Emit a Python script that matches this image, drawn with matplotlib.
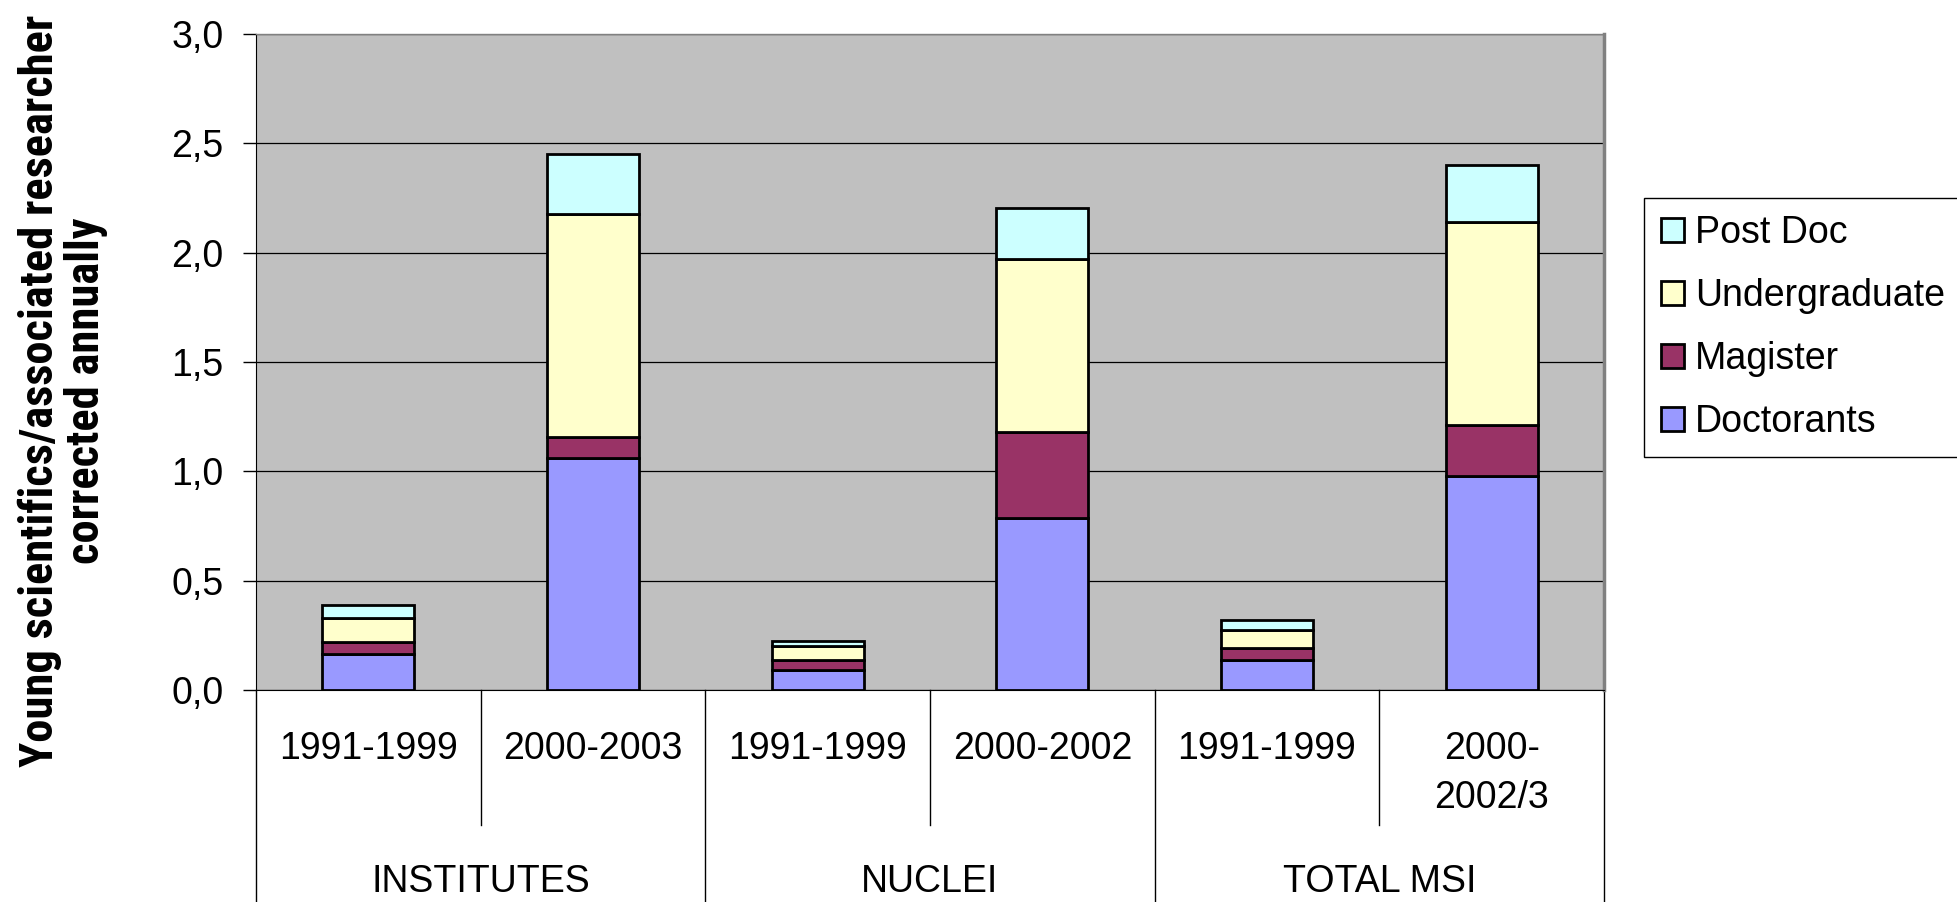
import matplotlib
matplotlib.use("Agg")
import matplotlib.pyplot as plt
import matplotlib.transforms as mtransforms
from matplotlib.patches import Patch
from matplotlib import font_manager

groups = ["INSTITUTES", "NUCLEI", "TOTAL MSI"]
periods = ["1991-1999", "2000-2003", "1991-1999", "2000-2002", "1991-1999", "2000-\n2002/3"]
doctorants = [0.165, 1.06, 0.093, 0.785, 0.135, 0.98]
magister = [0.055, 0.095, 0.044, 0.395, 0.057, 0.23]
undergraduate = [0.11, 1.02, 0.065, 0.79, 0.084, 0.93]
postdoc = [0.06, 0.275, 0.02, 0.235, 0.042, 0.26]
yticks = [0.0, 0.5, 1.0, 1.5, 2.0, 2.5, 3.0]
ytick_labels = ["0,0", "0,5", "1,0", "1,5", "2,0", "2,5", "3,0"]
ylabel = "Young scientifics/associated researcher\ncorrected annually"

series = [("Doctorants", doctorants, "#9999FF"),
          ("Magister", magister, "#993366"),
          ("Undergraduate", undergraduate, "#FFFFCC"),
          ("Post Doc", postdoc, "#CCFFFF")]

plt.rcParams['font.family'] = ['Liberation Sans', 'DejaVu Sans']

W, H = 1957, 902
fig = plt.figure(figsize=(W / 100, H / 100), dpi=100)
L, R, T, B = 256, 1604, 34, 690
ax = fig.add_axes([L / W, (H - B) / H, (R - L) / W, (B - T) / H])
ax.set_facecolor("#C0C0C0")

x = list(range(len(periods)))
bottom = [0.0] * len(periods)
for name, vals, col in series:
    ax.bar(x, vals, width=0.41, bottom=bottom, color=col, edgecolor="black",
           linewidth=2.0, zorder=3)
    bottom = [b + v for b, v in zip(bottom, vals)]

ax.set_xlim(-0.5, len(periods) - 0.5)
ax.set_ylim(0, 3.0)
ax.set_yticks(yticks)
ax.set_yticklabels(ytick_labels, fontsize=27)
ax.tick_params(axis='y', direction='out', length=9.5, width=1, pad=14, colors='black')
ax.set_xticks([])
ax.yaxis.grid(True, color="black", linewidth=0.9, zorder=1)
ax.set_axisbelow(True)
for s in ['top', 'right']:
    ax.spines[s].set_color('#808080')
ax.spines['right'].set_linewidth(2.5)
ax.spines['top'].set_linewidth(1.0)
ax.spines['left'].set_color('black')
ax.spines['bottom'].set_color('black')

# category axis (two-level)
tr = mtransforms.blended_transform_factory(ax.transData, fig.transFigure)
y_axis = (H - B) / H
for gx in [-0.5, 1.5, 3.5, 5.5]:
    ax.plot([gx, gx], [0, y_axis], transform=tr, color="black", lw=1.0, clip_on=False)
for sx in [0.5, 2.5, 4.5]:
    ax.plot([sx, sx], [(H - 825) / H, y_axis], transform=tr, color="black", lw=1.0,
            clip_on=False)
for i, lab in enumerate(periods):
    for j, line in enumerate(lab.split("\n")):
        ax.text(i, (H - 759 - 49 * j) / H, line, transform=tr, ha='center',
                va='baseline', fontsize=27)
for g, name in enumerate(groups):
    ax.text(2 * g + 0.5, (H - 892) / H, name, transform=tr, ha='center',
            va='baseline', fontsize=27)

# y label
narrow = None
for fam in ['Liberation Sans Narrow', 'Roboto Condensed']:
    try:
        font_manager.findfont(font_manager.FontProperties(family=fam),
                              fallback_to_default=False)
        narrow = fam
        break
    except Exception:
        pass
fam = [narrow, 'Liberation Sans'] if narrow else ['Liberation Sans']
yl = fig.text(63 / W, (H - 391) / H, ylabel, rotation=90, ha='center', va='center',
              multialignment='center', fontsize=30, fontweight='bold', family=fam,
              linespacing=1.05)
fig.canvas.draw()
bb = yl.get_window_extent()
scale = 752 / bb.height
yl.set_fontsize(30 * scale)

# legend
handles = [Patch(facecolor=col, edgecolor='black', linewidth=2.0, label=name)
           for name, vals, col in series[::-1]]
leg = fig.legend(handles=handles, loc='upper left',
                 bbox_to_anchor=(1644 / W, (H - 198) / H), fontsize=27,
                 frameon=True, fancybox=False, edgecolor='black', framealpha=1,
                 handlelength=0.62, handleheight=0.62, handletextpad=0.3,
                 labelspacing=0.72, borderpad=0.45, borderaxespad=0)
leg.get_frame().set_linewidth(1.0)

fig.savefig("out.png", dpi=100)
print("narrow font:", narrow, "scale", scale)
